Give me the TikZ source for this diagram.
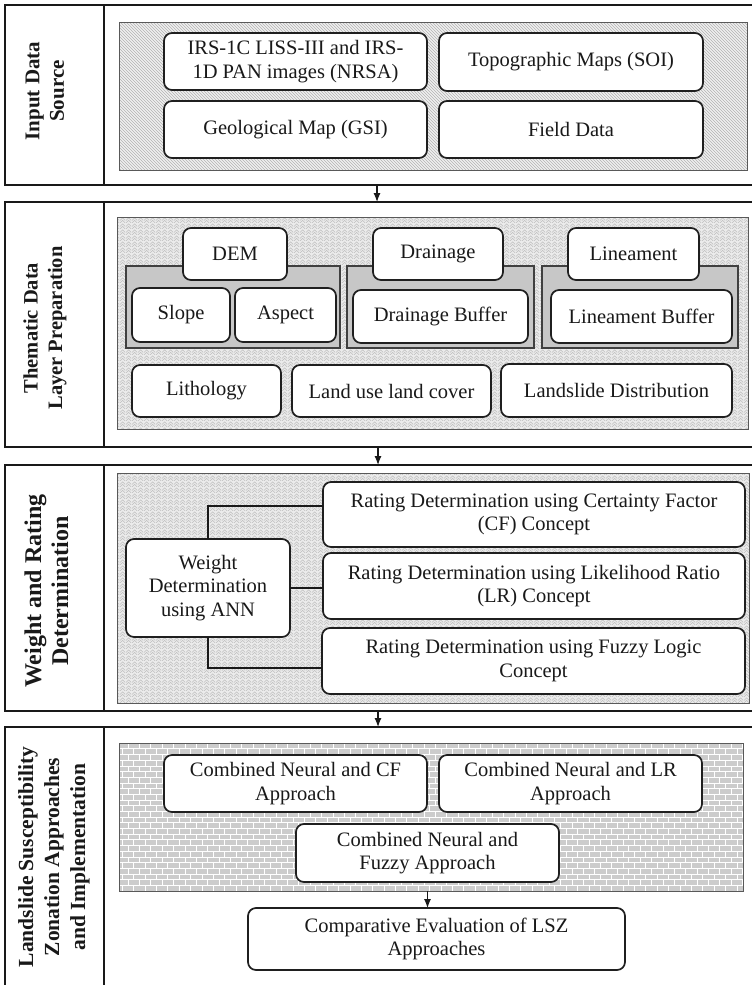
\documentclass[tikz,border=0pt]{standalone}
\usepackage{fontspec}
\setmainfont{Liberation Serif}
\usetikzlibrary{patterns,patterns.meta,arrows.meta}
\tikzdeclarepattern{
  name=weave,
  type=uncolored,
  bounding box={(0pt,0pt) and (6pt,6pt)},
  tile size={(6pt,6pt)},
  code={
    \draw[line width=0.6pt] (0pt,0pt) -- (3pt,3pt) -- (6pt,0pt);
    \draw[line width=0.6pt] (0pt,3pt) -- (3pt,6pt) -- (6pt,3pt);
  }
}
\tikzset{
  rbox/.style={draw=black!88, line width=1.7pt, fill=white, rounded corners=8pt,
    inner sep=0pt, outer sep=0pt, align=center, text=black!90,
    font=\fontsize{20.5}{23.5}\selectfont},
  gbox/.style={draw=black!75, line width=1.4pt, fill=black!22, inner sep=0pt, outer sep=0pt},
  panel/.style={draw=black!65, line width=1pt, inner sep=0pt, outer sep=0pt},
  panA/.style={panel, preaction={fill=black!6}, pattern=north west lines, pattern color=black!30},
  panB/.style={panel, preaction={fill=black!8}, pattern=weave, pattern color=black!25},
  panC/.style={panel, preaction={fill=black!20}, pattern=bricks, pattern color=white},
  frame/.style={draw=black!90, line width=2.2pt},
  lab/.style={rotate=90, align=center, text=black!90, font=\bfseries},
  conn/.style={draw=black!90, line width=1.5pt},
  arr/.style={draw=black!90, line width=1.2pt, -{Latex[length=9pt,width=7pt]}}
}
\newcommand\bx[7]{%
  \node[#1, minimum width={#5-#3}, minimum height={#6-#4}] (#2)
    at ({(#3+#5)/2},{(#4+#6)/2}) {#7};}
\begin{document}
\begin{tikzpicture}[x=1pt,y=-1pt]
\useasboundingbox (0,0) rectangle (752,985);
% ---------- frames ----------
\draw[frame] (760,5) -- (5,5) -- (5,185) -- (760,185);
\draw[frame] (104,5) -- (104,185);
\draw[frame] (760,202) -- (5,202) -- (5,447) -- (760,447);
\draw[frame] (104,202) -- (104,447);
\draw[frame] (760,465) -- (5,465) -- (5,711) -- (760,711);
\draw[frame] (104,465) -- (104,711);
\draw[frame] (760,727) -- (5,727) -- (5,995);
\draw[frame] (104,727) -- (104,995);
% ---------- labels ----------
\node[lab, font=\bfseries\fontsize{21}{24.5}\selectfont] (L1) at (45,91) {Input Data\\Source};
\node[lab, font=\bfseries\fontsize{20.5}{24.5}\selectfont] (L2) at (45,328) {Thematic Data\\Layer Preparation};
\node[lab, font=\bfseries\fontsize{24}{27}\selectfont] (L3) at (46.5,591) {Weight and Rating\\Determination};
\node[lab, font=\bfseries\fontsize{21.5}{26}\selectfont] (L4) at (54,857) {Landslide Susceptibility\\Zonation Approaches\\and Implementation};
% ---------- section 1 ----------
\bx{panA}{P1}{119}{22}{747}{170}{}
\bx{rbox}{irs}{164}{33}{427}{90}{IRS-1C LISS-III and IRS-\\1D PAN images (NRSA)}
\bx{rbox}{topo}{439}{33}{703}{91}{Topographic Maps (SOI)}
\bx{rbox}{geo}{164}{101}{427}{158}{Geological Map (GSI)}
\bx{rbox}{field}{439}{101}{703}{158}{Field Data}
% ---------- section 2 ----------
\bx{panB}{P2}{117}{217}{748}{429}{}
\bx{gbox}{gdem}{126}{266}{340}{348}{}
\bx{rbox}{dem}{183}{228}{287}{280}{DEM}
\bx{rbox}{slope}{132}{288}{230}{342}{Slope}
\bx{rbox}{aspect}{235}{288}{336}{342}{Aspect}
\bx{gbox}{gdr}{347}{266}{534}{348}{}
\bx{rbox}{dr}{373}{228}{503}{280}{Drainage}
\bx{rbox}{drb}{353}{290}{528}{343}{Drainage Buffer}
\bx{gbox}{gli}{542}{266}{738}{348}{}
\bx{rbox}{li}{568}{228}{699}{280}{Lineament}
\bx{rbox}{lib}{551}{290}{732}{343}{Lineament Buffer}
\bx{rbox}{lith}{132}{365}{281}{417}{Lithology}
\bx{rbox}{lulc}{292}{365}{491}{417}{Land use land cover}
\bx{rbox}{lsd}{501}{364}{732}{417}{Landslide Distribution}
% ---------- section 3 ----------
\bx{panB}{P3}{117}{473}{749}{703}{}
\bx{rbox}{W}{126}{539}{290}{637}{Weight\\Determination\\using ANN}
\bx{rbox}{cf}{323}{482}{745}{547}{Rating Determination using Certainty Factor\\(CF) Concept}
\bx{rbox}{lr}{323}{553}{745}{619}{Rating Determination using Likelihood Ratio\\(LR) Concept}
\bx{rbox}{fz}{322}{628}{745}{694}{Rating Determination using Fuzzy Logic\\Concept}
\draw[conn] (W.north) |- ([yshift=8.5pt]cf.west);
\draw[conn] (W.east) -- (W.east -| lr.west);
\draw[conn] (W.south) |- ([yshift=-7pt]fz.west);
% ---------- section 4 ----------
\bx{panC}{P4}{119}{743}{743}{891}{}
\bx{rbox}{ccf}{164}{755}{427}{812}{Combined Neural and CF\\Approach}
\bx{rbox}{clr}{439}{755}{702}{812}{Combined Neural and LR\\Approach}
\bx{rbox}{cfz}{296}{824}{559}{882}{Combined Neural and\\Fuzzy Approach}
\bx{rbox}{cmp}{248}{908}{625}{970}{Comparative Evaluation of LSZ\\Approaches}
\draw[arr] (cfz.south |- P4.south) -- (cfz.south |- cmp.north);
% ---------- arrows between sections ----------
\coordinate (s1b) at (377,185);
\coordinate (s2t) at (377,202);
\coordinate (s2b) at (378,447);
\coordinate (s3t) at (378,465);
\coordinate (s3b) at (378,711);
\coordinate (s4t) at (378,727);
\draw[arr] (s1b) -- (s2t);
\draw[arr] (s2b) -- (s3t);
\draw[arr] (s3b) -- (s4t);
\end{tikzpicture}
\end{document}
